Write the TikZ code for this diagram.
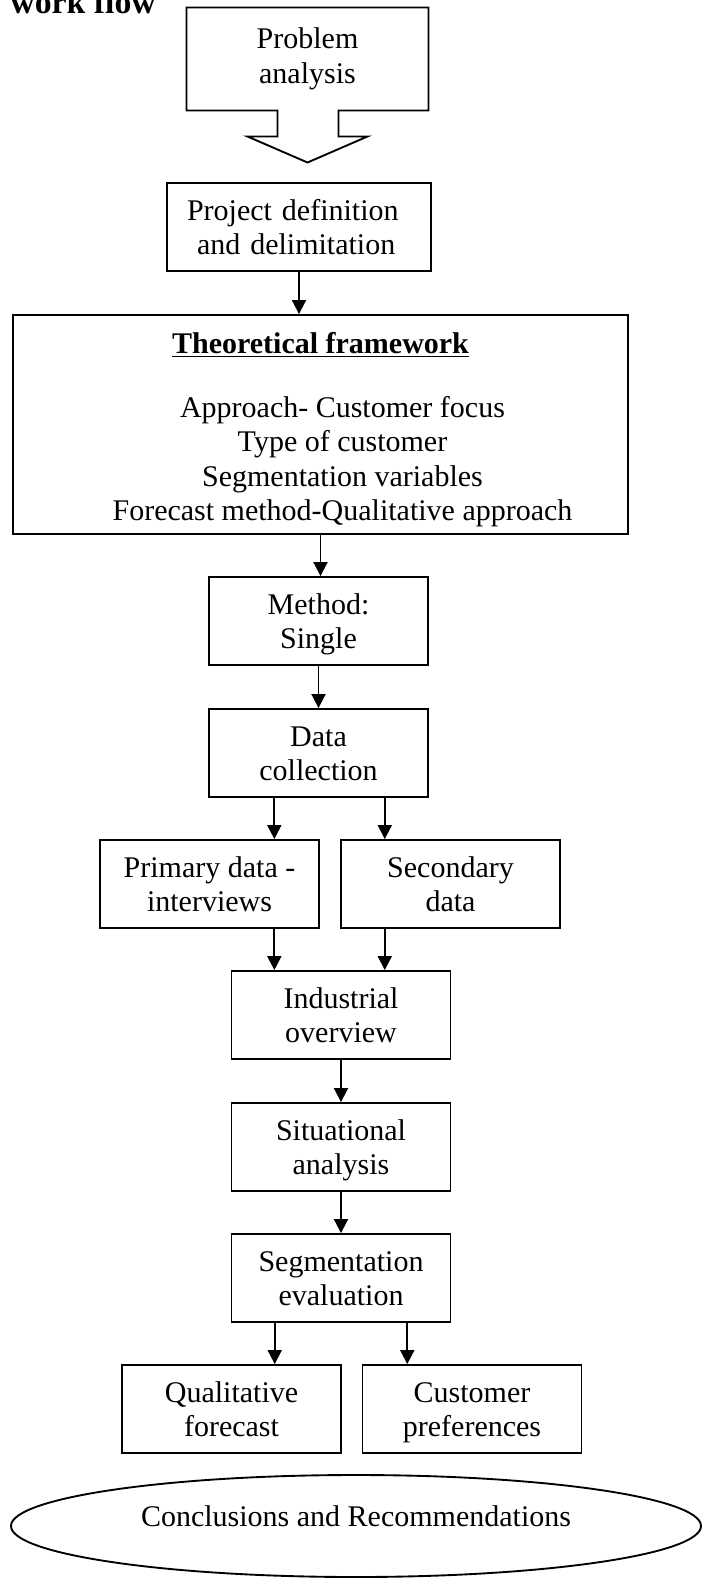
\documentclass[tikz,border=0pt]{standalone}
\usepackage{fontspec}
\setmainfont{Liberation Serif}
\usetikzlibrary{arrows.meta,shapes.geometric,calc}

% two centred lines with a fixed top height and bottom depth
\newcommand\twolines[2]{\rule{0pt}{10.9pt}#1\\#2\rule[-2.6pt]{0pt}{2.6pt}}

\begin{document}
\begin{tikzpicture}[
    x=0.4pt, y=-0.4pt,
    font=\fontsize{12}{13.8}\selectfont,
    box/.style={draw, line width=0.75pt, inner sep=0pt,
                minimum width=87.6pt, minimum height=35.2pt, align=center},
    arr/.style={line width=0.75pt, -{Triangle[width=5.6pt,length=5.6pt]}},
    outline/.style={draw, line width=0.75pt, line join=miter}
  ]
  \useasboundingbox (0,0) rectangle (703,1579);

  % heading
  \node[anchor=base west, inner sep=0pt, font=\fontsize{13.5}{16}\selectfont\bfseries]
    (heading) at (10,14) {work flow};

  % down-arrow callout
  \node[inner sep=0pt, minimum width=96.4pt, minimum height=40.8pt, align=center]
    (prob) at (307.5,59) {Problem\\analysis};
  \draw[outline] (prob.south west) -- (prob.north west) -- (prob.north east)
    -- (prob.south east)
    -- ([shift={(31,0)}]prob.south) -- ([shift={(31,26)}]prob.south)
    -- ([shift={(60,26)}]prob.south) -- ([shift={(0,52)}]prob.south)
    -- ([shift={(-60,26)}]prob.south) -- ([shift={(-30,26)}]prob.south)
    -- ([shift={(-30,0)}]prob.south) -- cycle;

  % boxes
  \node[box, minimum width=105.6pt, text width=89.6pt, inner xsep=8pt, align=left]
    (proj) at (299,227) {Project definition\\~and delimitation};

  \node[box, minimum width=246pt, minimum height=87.6pt] (theory) at (320.5,424.5)
    {\underline{\textbf{Theoretical framework}}\rule{0pt}{12.5pt}\\[11.8pt]
     \hspace*{17.6pt}Approach- Customer focus\\
     \hspace*{17.6pt}Type of customer\\
     \hspace*{17.6pt}Segmentation variables\\
     \hspace*{17.6pt}Forecast method-Qualitative approach};

  \node[box] (method) at (318.5,621)  {\twolines{Method:}{Single}};
  \node[box] (data)   at (318.5,753)  {\twolines{Data}{collection}};
  \node[box] (prim)   at (209.5,884)  {\twolines{Primary data -}{interviews}};
  \node[box] (sec)    at (450.5,884)  {\twolines{Secondary}{data}};
  \node[box] (ind)    at (341,1015)   {\twolines{Industrial}{overview}};
  \node[box] (sit)    at (341,1147)   {\twolines{Situational}{analysis}};
  \node[box] (seg)    at (341,1278)   {\twolines{Segmentation}{evaluation}};
  \node[box] (qual)   at (231.5,1409) {\twolines{Qualitative}{forecast}};
  \node[box] (cust)   at (472,1409)   {\twolines{Customer}{preferences}};

  \node[draw, ellipse, line width=0.75pt, inner sep=0pt,
        minimum width=276pt, minimum height=40.8pt]
    (concl) at (356,1526) {\raisebox{8pt}{Conclusions and Recommendations}};

  % connectors
  \draw[arr] (proj.south) -- (proj.south |- theory.north);
  \draw[arr] (theory.south) -- (theory.south |- method.north);
  \draw[arr] (method) -- (data);

  \coordinate (dl) at ($(data.south west)!0.3!(data.south east)$);
  \coordinate (dr) at ($(data.south west)!0.8!(data.south east)$);
  \draw[arr] (dl) -- (dl |- prim.north);
  \draw[arr] (dr) -- (dr |- sec.north);
  \draw[arr] (dl |- prim.south) -- (dl |- ind.north);
  \draw[arr] (dr |- sec.south) -- (dr |- ind.north);

  \draw[arr] (ind) -- (sit);
  \draw[arr] (sit) -- (seg);

  \coordinate (sl) at ($(seg.south west)!0.2!(seg.south east)$);
  \coordinate (sr) at ($(seg.south west)!0.8!(seg.south east)$);
  \draw[arr] (sl) -- (sl |- qual.north);
  \draw[arr] (sr) -- (sr |- cust.north);
\end{tikzpicture}
\end{document}
